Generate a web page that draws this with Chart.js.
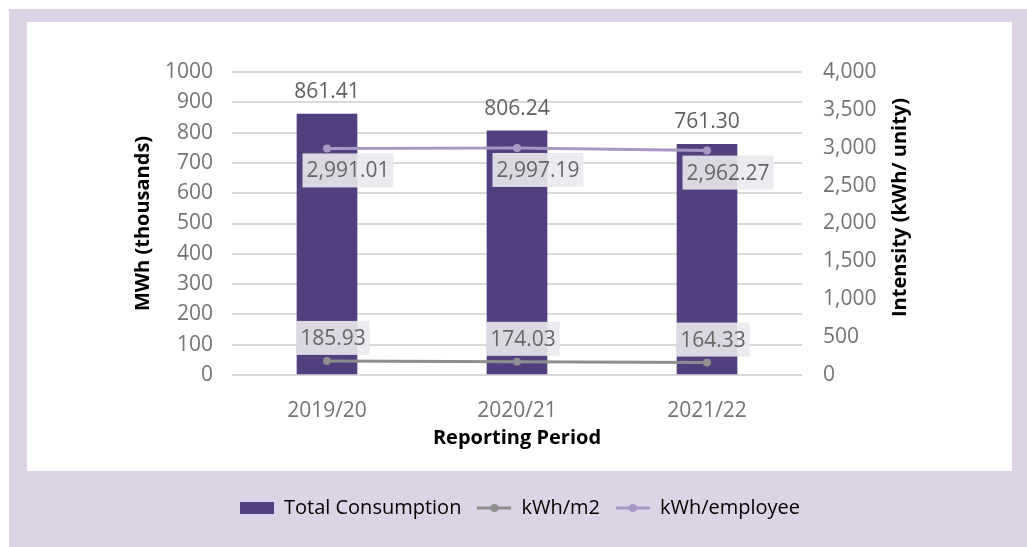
<!DOCTYPE html>
<html>
<head>
<meta charset="utf-8">
<script src="https://cdn.jsdelivr.net/npm/chart.js@4.4.1/dist/chart.umd.min.js"></script>
<style>
  html, body { margin: 0; padding: 0; background: #fff; }
  #wrap { width: 1027px; height: 547px; }
</style>
</head>
<body>
<div id="wrap"><canvas id="chart" width="1027" height="547"></canvas></div>
<script>
const periods = ["2019/20", "2020/21", "2021/22"];
const totalConsumption = [861.41, 806.24, 761.30];
const kwhPerM2 = [185.93, 174.03, 164.33];
const kwhPerEmployee = [2991.01, 2997.19, 2962.27];

const FONT = "'Open Sans', 'Noto Sans', sans-serif";
const barColor = "#523f7f";
const m2Color = "#8e8e8e";
const empColor = "#a898c5";
const rightTitle = "Intensity (kWh/ unity)";

// small canvases used as legend symbols
function swatch(kind, color) {
  const c = document.createElement("canvas");
  c.width = 34;
  c.height = 12;
  const g = c.getContext("2d");
  if (kind === "bar") {
    g.fillStyle = color;
    g.fillRect(0, 0, 34, 12);
  } else {
    g.strokeStyle = color;
    g.lineWidth = 3;
    g.beginPath();
    g.moveTo(0, 6);
    g.lineTo(34, 6);
    g.stroke();
    g.fillStyle = color;
    g.beginPath();
    g.arc(17, 6, 4, 0, Math.PI * 2);
    g.fill();
  }
  return c;
}

const fmt = (v, d) => v.toLocaleString("en-US", { minimumFractionDigits: d, maximumFractionDigits: d });

const backgroundPlugin = {
  id: "panel",
  beforeDraw(chart) {
    const ctx = chart.ctx;
    ctx.save();
    ctx.fillStyle = "#ffffff";
    ctx.fillRect(0, 0, chart.width, chart.height);
    ctx.fillStyle = "#dcd4e6";
    ctx.fillRect(9, 9, chart.width - 9, chart.height - 9);
    ctx.fillStyle = "#ffffff";
    ctx.fillRect(27, 22, 985, 449);
    ctx.restore();
  }
};

const labelPlugin = {
  id: "valueLabels",
  afterDatasetsDraw(chart) {
    const ctx = chart.ctx;
    ctx.save();
    ctx.font = "21px " + FONT;
    ctx.textAlign = "center";
    ctx.textBaseline = "middle";

    // bar values above the bars
    chart.getDatasetMeta(0).data.forEach((el, i) => {
      ctx.fillStyle = "#5f5f5f";
      ctx.fillText(fmt(totalConsumption[i], 2), el.x, el.y - 22);
    });

    const boxed = (text, x, y) => {
      const w = ctx.measureText(text).width + 8;
      const h = 34;
      ctx.fillStyle = "rgba(234,233,237,0.9)";
      ctx.fillRect(x - w / 2, y - h / 2, w, h);
      ctx.fillStyle = "#666666";
      ctx.fillText(text, x, y + 1);
    };

    chart.getDatasetMeta(1).data.forEach((el, i) => {
      boxed(fmt(kwhPerM2[i], 2), el.x + 6, el.y - 23);
    });
    chart.getDatasetMeta(2).data.forEach((el, i) => {
      boxed(fmt(kwhPerEmployee[i], 2), el.x + 21, el.y + 22);
    });

    // right axis title, reading bottom-to-top like the left one
    const s = chart.scales.y1;
    ctx.translate(s.right - 20, (s.top + s.bottom) / 2 - 16);
    ctx.rotate(-Math.PI / 2);
    ctx.font = "bold 20px " + FONT;
    ctx.fillStyle = "#000000";
    ctx.fillText(rightTitle, 0, 0);
    ctx.restore();
  }
};

new Chart(document.getElementById("chart"), {
  type: "bar",
  data: {
    labels: periods,
    datasets: [
      {
        label: "Total Consumption",
        data: totalConsumption,
        backgroundColor: barColor,
        yAxisID: "y",
        barThickness: 60,
        order: 3
      },
      {
        type: "line",
        label: "kWh/m2",
        data: kwhPerM2,
        borderColor: m2Color,
        backgroundColor: m2Color,
        borderWidth: 3,
        pointRadius: 4,
        pointBackgroundColor: m2Color,
        pointBorderWidth: 0,
        yAxisID: "y1",
        order: 1
      },
      {
        type: "line",
        label: "kWh/employee",
        data: kwhPerEmployee,
        borderColor: empColor,
        backgroundColor: empColor,
        borderWidth: 3,
        pointRadius: 4,
        pointBackgroundColor: empColor,
        pointBorderWidth: 0,
        yAxisID: "y1",
        order: 2
      }
    ]
  },
  options: {
    responsive: false,
    animation: false,
    devicePixelRatio: 1,
    layout: { padding: { left: 120, right: 107, top: 72, bottom: 19 } },
    plugins: {
      tooltip: { enabled: false },
      legend: {
        position: "bottom",
        labels: {
          usePointStyle: true,
          pointStyleWidth: 34,
          padding: 16,
          color: "#404040",
          font: { family: FONT, size: 20 },
          generateLabels: () => [
            { text: "Total Consumption", pointStyle: swatch("bar", barColor), fillStyle: barColor, strokeStyle: barColor, lineWidth: 0, datasetIndex: 0 },
            { text: "kWh/m2", pointStyle: swatch("line", m2Color), fillStyle: m2Color, strokeStyle: m2Color, lineWidth: 0, datasetIndex: 1 },
            { text: "kWh/employee", pointStyle: swatch("line", empColor), fillStyle: empColor, strokeStyle: empColor, lineWidth: 0, datasetIndex: 2 }
          ]
        }
      }
    },
    scales: {
      x: {
        grid: { display: false },
        border: { display: false },
        ticks: { color: "#737373", font: { family: FONT, size: 21 }, padding: 15 },
        title: {
          display: true,
          text: "Reporting Period",
          color: "#000000",
          font: { family: FONT, size: 20, weight: "bold" },
          padding: { top: 0, bottom: 32 }
        },
        afterFit: (s) => { s.height = 107; }
      },
      y: {
        position: "left",
        min: 0,
        max: 1000,
        ticks: {
          stepSize: 100,
          color: "#737373",
          font: { family: FONT, size: 21 },
          padding: 19,
          callback: (v) => String(v)
        },
        grid: { color: "#d9d9d9", lineWidth: 2, drawTicks: false },
        border: { display: false },
        title: {
          display: true,
          text: "MWh (thousands)",
          color: "#000000",
          font: { family: FONT, size: 20, weight: "bold" },
          padding: { top: 11, bottom: 0 }
        },
        afterFit: (s) => { s.width = 112; }
      },
      y1: {
        position: "right",
        min: 0,
        max: 4000,
        ticks: {
          stepSize: 500,
          color: "#737373",
          font: { family: FONT, size: 21 },
          padding: 21,
          callback: (v) => v.toLocaleString("en-US")
        },
        grid: { display: false, drawTicks: false },
        border: { display: false },
        title: { display: false },
        afterFit: (s) => { s.width = 118; }
      }
    }
  },
  plugins: [backgroundPlugin, labelPlugin]
});
</script>
</body>
</html>
